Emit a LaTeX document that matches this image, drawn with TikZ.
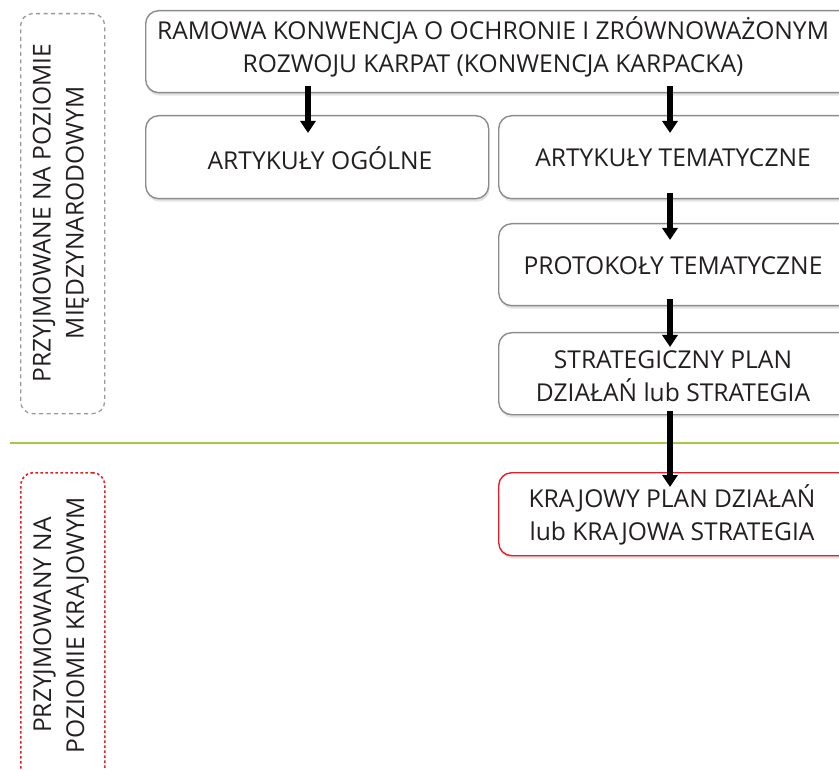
\documentclass[tikz,border=0pt]{standalone}
\usepackage{fontspec}
\setmainfont{Open Sans}
\usetikzlibrary{arrows.meta,shadows,calc}
\definecolor{txt}{RGB}{35,31,32}
\definecolor{boxgray}{RGB}{140,140,140}
\definecolor{kred}{RGB}{230,30,40}
\definecolor{kgreen}{RGB}{165,200,70}
\begin{document}
\begin{tikzpicture}[x=1pt,y=-1pt,
  box/.style={draw=boxgray, line width=1.4pt, rounded corners=13pt, fill=white,
    drop shadow={shadow xshift=1pt, shadow yshift=-3pt, fill=black!22},
    inner sep=0pt, anchor=north west},
  sidebox/.style={line width=1.3pt, rounded corners=12pt, inner sep=0pt, anchor=north west},
  lbl/.style={font=\fontsize{24.6}{33}\selectfont, text=txt, align=center, inner sep=0pt},
  arr/.style={line width=5.5pt, -{Triangle[width=15pt,length=12pt]}, draw=black}
]
\useasboundingbox (0,0) rectangle (839,770);
\clip (0,0) rectangle (839,770);

% side boxes
\node[sidebox, draw=black!40, dash pattern=on 4pt off 3.5pt, minimum width=84pt, minimum height=400pt] (intl) at (20,13) {};
\node[lbl, rotate=90] (intlt) at (61,213) {PRZYJMOWANE NA POZIOMIE\\MIĘDZYNARODOWYM};
\node[sidebox, draw=kred, line width=1.6pt, dash pattern=on 2.5pt off 2.5pt, minimum width=84pt, minimum height=340pt] (nat) at (20,472) {};
\node[lbl, rotate=90] (natt) at (61,625) {PRZYJMOWANY NA\\POZIOMIE KRAJOWYM};

% separator
\coordinate (sepL) at (10,443);
\coordinate (sepR) at (845,443);
\draw[kgreen, line width=2.5pt] (sepL) -- (sepR);

% main boxes
\node[box, minimum width=735pt, minimum height=82pt] (top) at (145,10) {};
\node[lbl] (topt) at (493,47) {RAMOWA KONWENCJA O OCHRONIE I ZRÓWNOWAŻONYM\\ROZWOJU KARPAT (KONWENCJA KARPACKA)};
\node[box, minimum width=343pt, minimum height=83pt] (aog) at (145,115) {};
\node[lbl] (aogt) at (320,158) {ARTYKUŁY OGÓLNE};
\node[box, minimum width=382pt, minimum height=83pt] (atem) at (498,115) {};
\node[lbl] (atemt) at (673,158) {ARTYKUŁY TEMATYCZNE};
\node[box, minimum width=382pt, minimum height=82pt] (prot) at (498,223) {};
\node[lbl] (prott) at (673,266) {PROTOKOŁY TEMATYCZNE};
\node[box, minimum width=382pt, minimum height=82pt] (strat) at (498,332) {};
\node[lbl] (stratt) at (673,376) {STRATEGICZNY PLAN\\DZIAŁAŃ lub STRATEGIA};
\node[box, draw=kred, minimum width=382pt, minimum height=83pt] (kraj) at (498,472) {};
\node[lbl] (krajt) at (672,515) {KRAJOWY PLAN DZIAŁAŃ\\lub KRAJOWA STRATEGIA};

% arrows
\draw[arr] ($(aog.north west |- top.south)+(163,-7)$) -- ($(aog.north west)+(163,18)$);
\draw[arr] ($(atem.north west |- top.south)+(172,-7)$) -- ($(atem.north west)+(172,18)$);
\draw[arr] ($(atem.south west)+(172,-6)$) -- ($(prot.north west)+(172,17)$);
\draw[arr] ($(prot.south west)+(172,-7)$) -- ($(strat.north west)+(172,15)$);
\draw[arr] ($(strat.south west)+(172,-4)$) -- ($(kraj.north west)+(172,15)$);
\end{tikzpicture}
\end{document}
